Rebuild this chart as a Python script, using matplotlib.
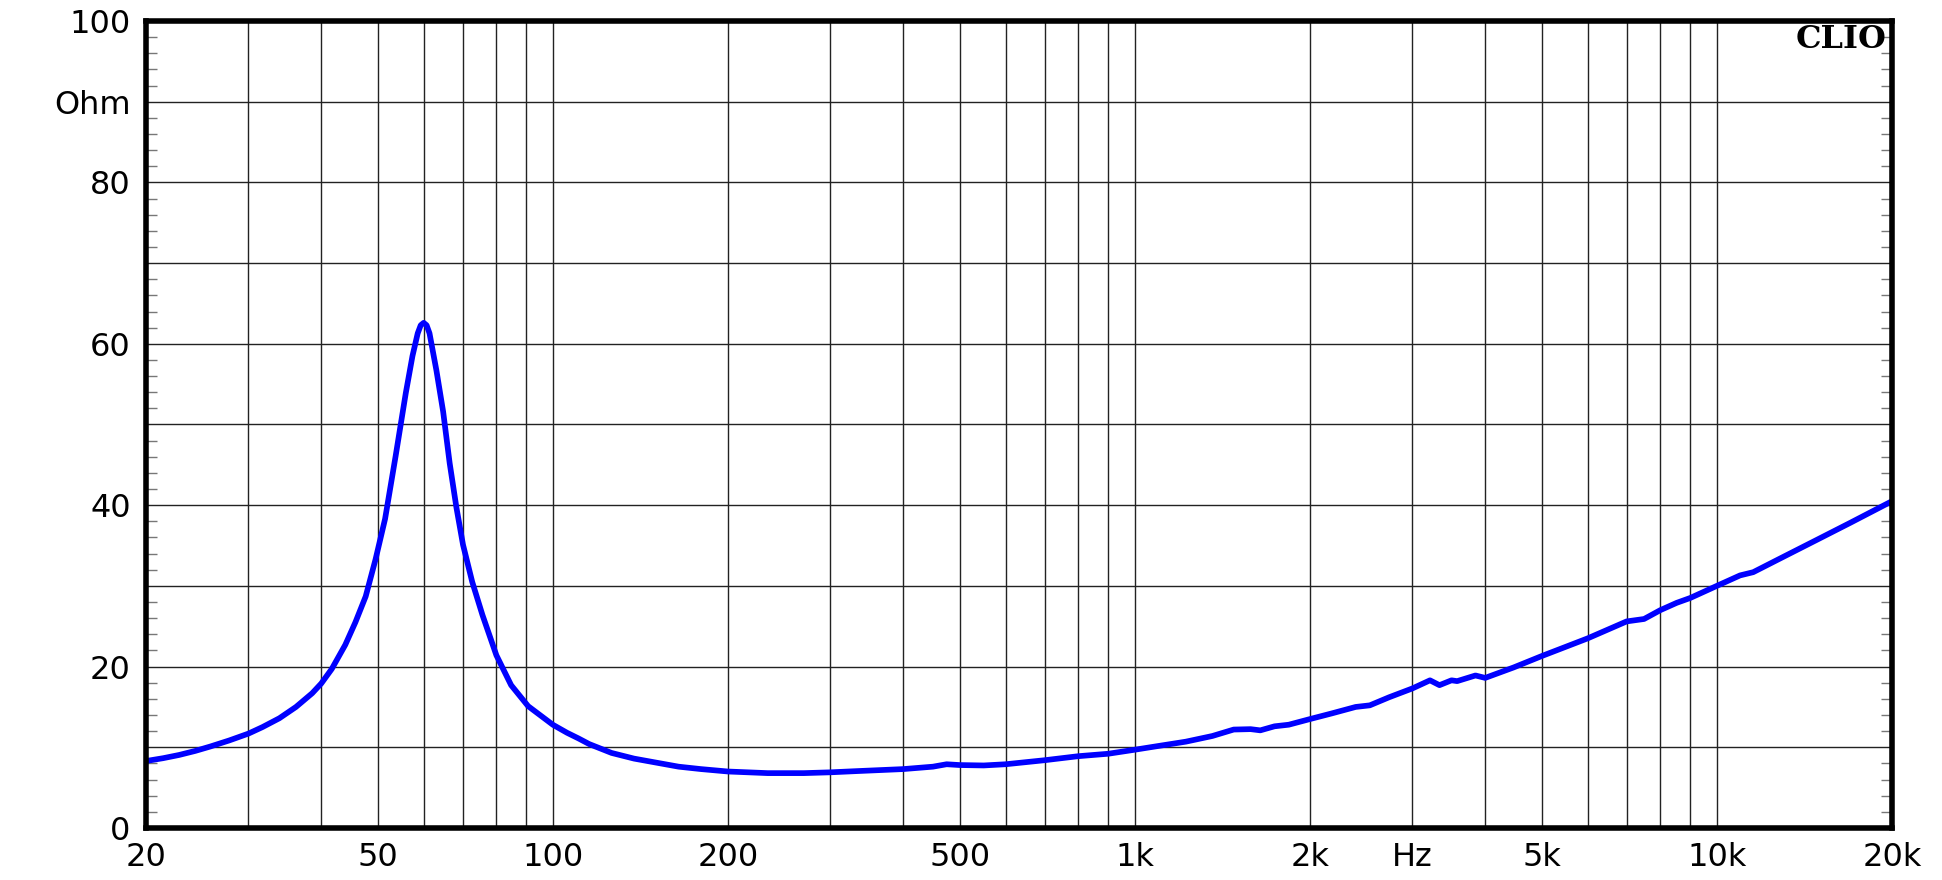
import matplotlib
matplotlib.use("Agg")
import matplotlib.pyplot as plt
import numpy as np

# ---- data ----
freq_hz = [20, 21.4, 22.8, 24.3, 25.8, 27.8, 30, 31.7, 33.9, 36.2, 38.6, 40, 41.7,
           44.0, 45.8, 47.7, 49.6, 51.5, 53.7, 55.9, 57.4, 58.6, 59.3, 60, 60.7,
           61.4, 63.1, 64.8, 66.5, 68.3, 70.1, 72.7, 75.7, 80, 84.8, 90.7, 100,
           105.8, 110.7, 115.5, 126.2, 137.9, 150.6, 164.5, 179.7, 200, 234, 270,
           300, 333, 400, 450, 475, 500, 550, 600, 700, 800, 900, 1000, 1062, 1224,
           1359, 1479, 1581, 1643, 1738, 1839, 2000, 2180, 2396, 2534, 2735, 3000,
           3215, 3338, 3501, 3580, 3849, 4000, 4478, 5000, 6000, 7000, 7500, 8000,
           8532, 9000, 10000, 10963, 11550, 13011, 14848, 16937, 20000]
impedance_ohm = [8.3, 8.65, 9.05, 9.55, 10.1, 10.85, 11.7, 12.5, 13.6, 15.0, 16.7, 17.9,
                 19.7, 22.7, 25.5, 28.7, 33.3, 38.3, 46.1, 53.9, 58.5, 61.3, 62.3,
                 62.6, 62.3, 61.3, 56.7, 51.6, 45.2, 39.7, 35.1, 30.5, 26.4, 21.4,
                 17.7, 15.1, 12.8, 11.8, 11.1, 10.4, 9.3, 8.6, 8.1, 7.6, 7.3, 7.0,
                 6.8, 6.8, 6.9, 7.05, 7.3, 7.6, 7.9, 7.8, 7.75, 7.9, 8.4, 8.9, 9.2,
                 9.7, 10.0, 10.7, 11.4, 12.2, 12.25, 12.1, 12.6, 12.8, 13.5, 14.2,
                 15.0, 15.2, 16.2, 17.3, 18.3, 17.7, 18.3, 18.2, 18.9, 18.6, 19.9,
                 21.3, 23.5, 25.6, 25.9, 27.0, 27.9, 28.5, 30.0, 31.3, 31.7, 33.6,
                 35.7, 37.8, 40.5]

x_label_pos = [20, 50, 100, 200, 500, 1000, 2000, 3000, 5000, 10000, 20000]
x_label_txt = ['20', '50', '100', '200', '500', '1k', '2k', 'Hz', '5k', '10k', '20k']
x_grid_pos = [30, 40, 60, 70, 80, 90, 300, 400, 600, 700, 800, 900,
              4000, 6000, 7000, 8000, 9000]
y_label_pos = [0, 20, 40, 60, 80, 90, 100]
y_label_txt = ['0', '20', '40', '60', '80', 'Ohm', '100']

# ---- figure ----
W, H, DPI = 1942, 880, 100
fig = plt.figure(figsize=(W / DPI, H / DPI), dpi=DPI)
L, R, B, T = 146, 1892, 828, 21
ax = fig.add_axes([L / W, 1 - B / H, (R - L) / W, (B - T) / H])

ax.set_xscale('log')
ax.set_xlim(20, 20000)
ax.set_ylim(0, 100)

grid_color = '#222222'
for yv in range(10, 100, 10):
    ax.axhline(yv, color=grid_color, lw=1.0, zorder=1)

ax.set_xticks(x_label_pos)
ax.set_xticklabels(x_label_txt)
ax.set_xticks(x_grid_pos, minor=True)
ax.set_xticklabels([], minor=True)
ax.grid(True, which='both', axis='x', color=grid_color, lw=1.0, zorder=1)
ax.tick_params(axis='x', which='both', length=0, pad=10, labelsize=23)

ax.set_yticks(y_label_pos)
ax.set_yticklabels(y_label_txt)
ax.set_yticks([v for v in range(2, 100, 2) if v % 10 != 0], minor=True)
ax.tick_params(axis='y', which='major', length=0, pad=11, labelsize=23)
ax.tick_params(axis='y', which='minor', direction='in', length=8, width=1.0,
               color='#777777', left=True, right=True)

for s in ax.spines.values():
    s.set_linewidth(4.0)
    s.set_color('black')
    s.set_zorder(5)

ax.plot(freq_hz, impedance_ohm, color='#0000ff', lw=4.1, zorder=3,
        solid_capstyle='round', solid_joinstyle='round')

ax.text(0.997, 0.996, 'CLIO', transform=ax.transAxes, ha='right', va='top',
        fontfamily='DejaVu Serif', fontweight='bold', fontsize=23, zorder=6)

fig.savefig('out.png', dpi=DPI)
